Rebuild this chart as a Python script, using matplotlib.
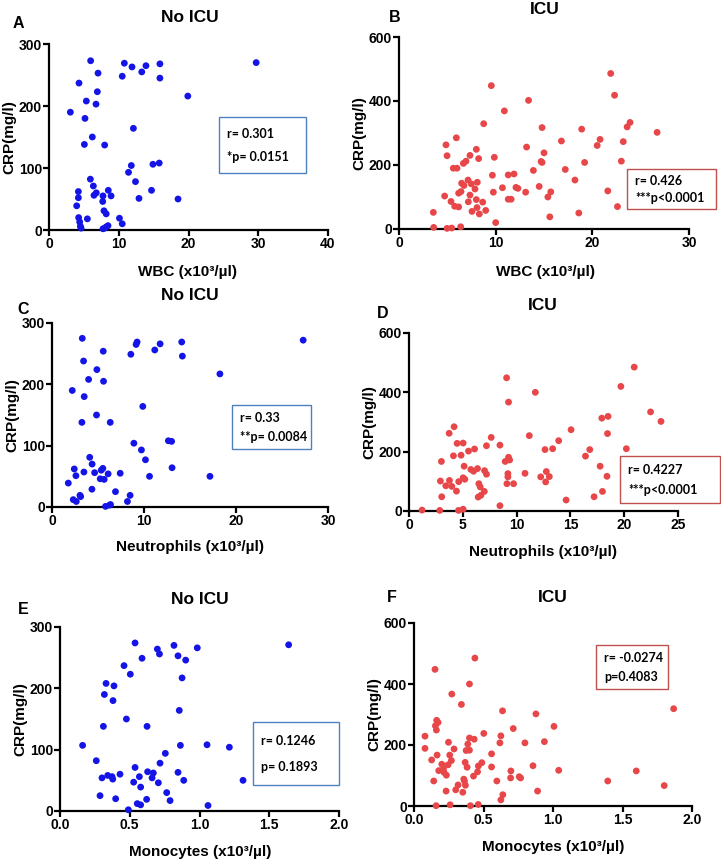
import matplotlib
matplotlib.use('Agg')
import matplotlib.pyplot as plt
from matplotlib.patches import Rectangle

plt.rcParams['font.family'] = ['Liberation Sans', 'DejaVu Sans']
plt.rcParams['font.weight'] = 'bold'

W, H = 721, 861

blue = '#1414E6'
red = '#E8474A'

# A: WBC, no ICU
a_x = [5.97, 4.30, 7.03, 6.93, 5.35, 6.74, 3.06, 5.16, 6.21, 5.07, 7.98, 10.8, 11.9, 10.5,
       13.3, 13.9, 15.9, 15.9, 19.9, 29.7, 12.1, 11.8, 14.9, 15.8, 11.4, 12.4, 14.7, 18.5,
       12.9, 5.93, 6.36, 6.45, 6.78, 4.21, 4.21, 3.97, 8.5, 8.9, 7.74, 7.7, 7.88, 8.2,
       4.25, 4.4, 4.5, 4.6, 5.5, 10.1, 10.5, 7.74, 7.98, 8.2, 8.46]
a_y = [273, 237, 253, 223, 208, 203, 190, 180, 150, 138, 137, 269, 263, 248,
       255, 265, 268, 245, 216, 270, 164, 104, 106, 108, 93, 78, 64, 50,
       51, 82, 71, 56, 60, 62, 52, 39, 64, 55, 55, 46, 31, 26,
       20, 13, 6, 3, 18, 19, 10, 2, 3, 5, 7]

# B: WBC, ICU
b_x = [21.9, 9.55, 22.3, 13.4, 10.9, 8.76, 14.8, 18.9, 23.9, 23.6, 26.7, 20.8, 20.5, 23.2,
       16.8, 5.93, 4.86, 4.97, 13.2, 15.0, 9.86, 8.0, 8.24, 7.34, 6.93, 6.66, 5.62, 6.0,
       14.7, 14.8, 13.9, 17.2, 19.2, 23.0, 9.66, 11.3, 11.9, 18.2, 7.14, 6.48, 7.48, 6.72,
       8.1, 7.86, 12.1, 12.3, 10.7, 13.1, 9.76, 14.5, 15.7, 15.4, 21.6, 11.3, 11.6, 6.17,
       6.41, 7.34, 4.72, 5.38, 5.76, 6.17, 7.17, 8.0, 8.07, 8.66, 7.55, 8.31, 8.97, 3.55,
       18.6, 22.6, 15.6, 10.0, 3.59, 4.97, 5.45, 6.38]
b_y = [486, 448, 418, 402, 369, 329, 317, 312, 333, 319, 302, 280, 261, 273,
       275, 285, 263, 229, 256, 238, 224, 249, 220, 230, 212, 205, 190, 190,
       211, 208, 183, 186, 208, 212, 168, 169, 172, 153, 153, 143, 141, 136,
       146, 125, 130, 127, 129, 115, 115, 133, 116, 100, 119, 93, 93, 112,
       117, 106, 103, 86, 71, 69, 85, 92, 67, 84, 55, 47, 58, 52,
       50, 70, 38, 20, 5, 2, 3, 7]

# C: Neutrophils, no ICU
c_x = [3.29, 3.43, 5.57, 4.88, 3.98, 5.6, 2.2, 3.5, 4.84, 3.25, 6.33, 8.57, 9.25, 9.14,
       11.17, 11.75, 14.1, 14.17, 18.25, 27.3, 9.87, 8.9, 12.65, 13.0, 9.72, 10.16, 10.6,
       13.05, 17.17, 4.1, 4.36, 2.42, 2.6, 1.77, 3.47, 4.63, 5.35, 5.53, 5.24, 5.67, 6.1,
       7.41, 4.34, 6.9, 3.04, 3.11, 2.31, 2.64, 8.49, 8.2, 5.82, 6.25, 6.36]
c_y = [275, 238, 254, 224, 208, 205, 190, 180, 150, 138, 138, 249, 269, 265,
       256, 266, 269, 246, 217, 272, 164, 104, 108, 107, 93, 77, 50,
       64, 50, 81, 70, 62, 51, 39, 57, 56, 60, 63, 46, 45, 54,
       55, 29, 25, 19, 17, 12, 9, 19, 9, 1, 3, 4]

# D: Neutrophils, ICU
d_x = [20.93, 9.07, 19.69, 11.74, 9.25, 22.45, 23.42, 17.92, 18.5, 18.45, 15.06, 11.18,
       13.91, 12.64, 13.35, 16.8, 16.4, 20.2, 17.76, 18.4, 17.98, 17.2, 14.6, 4.19, 3.73,
       4.47, 5.03, 7.64, 7.2, 8.45, 6.09, 5.53, 3.01, 4.13, 4.84, 8.94, 9.25, 9.35, 5.12,
       5.75, 6.0, 6.37, 7.02, 7.2, 9.19, 9.19, 10.78, 12.24, 12.76, 13.04, 12.7, 9.1,
       9.72, 2.92, 3.76, 4.62, 5.03, 5.19, 3.42, 3.98, 4.41, 6.49, 6.62, 7.0, 6.43, 6.68,
       3.04, 8.45, 1.21, 2.86, 4.6, 5.03]
d_y = [485, 449, 420, 400, 367, 334, 302, 313, 319, 261, 274, 254,
       237, 207, 210, 207, 185, 210, 151, 117, 66, 48, 37, 284, 262,
       228, 229, 248, 220, 222, 209, 202, 167, 186, 188, 167, 181, 172, 151,
       140, 134, 143, 136, 124, 126, 115, 127, 115, 133, 116, 98, 92,
       92, 101, 103, 99, 112, 107, 85, 83, 67, 92, 81, 66, 47, 53,
       48, 18, 3, 2, 2, 6]

# E: Monocytes, no ICU
e_x = [0.538, 0.698, 0.713, 0.817, 0.846, 0.984, 0.901, 1.639, 0.588, 0.459, 0.504, 0.875,
       0.33, 0.387, 0.318, 0.38, 0.476, 0.855, 0.311, 0.624, 0.162, 0.863, 1.054, 1.214,
       0.755, 0.26, 0.717, 0.538, 0.301, 0.342, 0.373, 0.378, 0.43, 0.628, 0.669, 0.66,
       0.569, 0.528, 0.705, 0.846, 0.887, 1.312, 0.578, 0.287, 0.399, 0.621, 0.765, 0.789,
       0.554, 0.578, 0.49, 1.061]
e_y = [274, 264, 256, 270, 253, 266, 246, 271, 249, 237, 223, 217,
       208, 204, 190, 180, 150, 164, 138, 138, 107, 107, 108, 104,
       94, 82, 78, 71, 54, 58, 56, 52, 60, 64, 62, 54,
       56, 47, 46, 63, 50, 50, 39, 25, 20, 19, 30, 17,
       12, 10, 2, 9]

# F: Monocytes, ICU
f_x = [0.438, 0.151, 0.399, 1.745, 0.272, 0.341, 0.637, 0.877, 1.868, 0.154, 0.161, 0.079,
       0.079, 0.163, 0.173, 0.248, 1.007, 0.714, 0.502, 0.625, 0.399, 0.433, 0.387, 0.618,
       0.798, 0.938, 0.399, 0.375, 0.288, 0.558, 0.166, 0.257, 0.127, 0.269, 0.2, 0.245,
       0.212, 0.368, 0.382, 0.488, 0.463, 0.457, 0.178, 0.216, 0.233, 0.558, 0.697, 0.856,
       1.041, 1.599, 0.695, 0.757, 0.767, 0.428, 0.358, 0.363, 0.142, 0.596, 1.394, 1.8,
       0.317, 0.37, 0.3, 0.351, 0.231, 0.889, 0.639, 0.625, 0.159, 0.26, 0.406, 0.462]
f_y = [485, 448, 400, 419, 367, 333, 312, 302, 319, 263, 249, 229,
       189, 281, 274, 209, 261, 254, 238, 230, 223, 219, 203, 207,
       207, 211, 183, 182, 187, 171, 167, 167, 151, 149, 137, 135,
       122, 143, 127, 142, 131, 112, 116, 110, 101, 128, 115, 132,
       117, 115, 92, 96, 92, 98, 88, 82, 82, 82, 82, 67,
       69, 68, 53, 45, 49, 49, 37, 20, 1, 4, 1, 5]

xlabels = ['WBC (x10³/µl)', 'WBC (x10³/µl)', 'Neutrophils (x10³/µl)',
           'Neutrophils (x10³/µl)', 'Monocytes (x10³/µl)', 'Monocytes (x10³/µl)']
titles = ['No ICU', 'ICU', 'No ICU', 'ICU', 'No ICU', 'ICU']
letters = ['A', 'B', 'C', 'D', 'E', 'F']
stats = [['r= 0.301', '*p= 0.0151'], ['r= 0.426', '***p<0.0001'],
         ['r= 0.33', '**p= 0.0084'], ['r= 0.4227', '***p<0.0001'],
         ['r= 0.1246', 'p= 0.1893'], ['r= -0.0274', 'p=0.4083']]
xlims = [(0, 40), (0, 30), (0, 30), (0, 25), (0, 2), (0, 2)]
xticks = [[0, 10, 20, 30, 40], [0, 10, 20, 30], [0, 10, 20, 30],
          [0, 5, 10, 15, 20, 25], [0, 0.5, 1.0, 1.5, 2.0], [0, 0.5, 1.0, 1.5, 2.0]]
ymaxs = [300, 600, 300, 600, 300, 600]

# layout in pixels: axes (left, top, right, bottom)
ax_px = [(49, 44, 328, 230), (399, 37, 689, 229), (52, 323, 328, 507),
         (409, 333, 678, 511), (60, 627, 339, 811), (414, 623, 692, 806)]
title_px = [(190, 17), (545, 10), (190, 295), (543, 306), (200, 599), (553, 597)]
letter_px = [(18, 23), (395, 17), (23, 310), (383, 313), (23, 610), (392, 597)]
xlab_px = [(188, 272), (545, 272), (190, 547), (543, 552), (200, 852), (553, 847)]
box_px = [(219, 117, 306, 173), (627, 169, 716, 209), (232, 405, 311, 449),
          (620, 456, 720, 503), (253, 722, 339, 785), (596, 645, 668, 689)]
box_col = ['#4F81BD', '#C0504D', '#4F81BD', '#C0504D', '#4F81BD', '#C0504D']

data = [(a_x, a_y, blue), (b_x, b_y, red), (c_x, c_y, blue),
        (d_x, d_y, red), (e_x, e_y, blue), (f_x, f_y, red)]

fig = plt.figure(figsize=(W / 100, H / 100), dpi=100)


def fx(px):
    return px / W


def fy(py):
    return 1 - py / H


for i in range(6):
    l, t, r, b = ax_px[i]
    ax = fig.add_axes([fx(l), fy(b), (r - l) / W, (b - t) / H])
    xs, ys, col = data[i]
    ax.scatter(xs, ys, s=24, color=col, edgecolors='none', zorder=3, clip_on=False)
    ax.set_xlim(*xlims[i])
    ax.set_ylim(0, ymaxs[i])
    ax.set_xticks(xticks[i])
    if i >= 4:
        ax.set_xticklabels(['%.1f' % v for v in xticks[i]])
    yt = [0, ymaxs[i] // 3, 2 * ymaxs[i] // 3, ymaxs[i]]
    ax.set_yticks(yt)
    ax.set_yticklabels([str(v) for v in yt])
    for s in ['top', 'right']:
        ax.spines[s].set_visible(False)
    for s in ['left', 'bottom']:
        ax.spines[s].set_linewidth(1.6)
    ax.tick_params(width=1.6, length=4, labelsize=10, pad=1)
    for lab in ax.get_xticklabels() + ax.get_yticklabels():
        lab.set_fontweight('bold')
    ax.set_ylabel('CRP(mg/l)', fontsize=11, fontweight='bold', labelpad=2)

    fig.text(fx(title_px[i][0]), fy(title_px[i][1]), titles[i], ha='center', va='center',
             fontsize=12.5, fontweight='bold')
    fig.text(fx(letter_px[i][0]), fy(letter_px[i][1]), letters[i], ha='center', va='center',
             fontsize=11.5, fontweight='bold')
    fig.text(fx(xlab_px[i][0]), fy(xlab_px[i][1]), xlabels[i], ha='center', va='center',
             fontsize=11, fontweight='bold')

    bl, bt, br, bb = box_px[i]
    fig.patches.append(Rectangle((fx(bl), fy(bb)), (br - bl) / W, (bb - bt) / H,
                                 transform=fig.transFigure, facecolor='white',
                                 edgecolor=box_col[i], linewidth=1.0, zorder=5))
    h = bb - bt
    fig.text(fx(bl + 8), fy(bt + h * 0.3), stats[i][0], ha='left', va='center',
             fontsize=9, fontweight='bold', family=['Lato', 'DejaVu Sans'], zorder=6)
    fig.text(fx(bl + 8), fy(bt + h * 0.72), stats[i][1], ha='left', va='center',
             fontsize=9, fontweight='bold', family=['Lato', 'DejaVu Sans'], zorder=6)

fig.savefig('out.png', dpi=100)
